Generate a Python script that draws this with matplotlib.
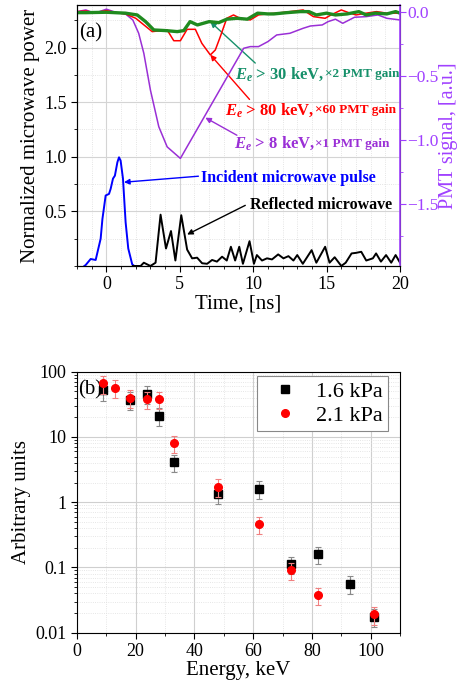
import numpy as np
import matplotlib
matplotlib.use("Agg")
import matplotlib.pyplot as plt
from matplotlib.ticker import MultipleLocator, FuncFormatter, LogLocator, NullFormatter

plt.rcParams["font.family"] = ["Liberation Serif", "DejaVu Serif"]
plt.rcParams["mathtext.fontset"] = "custom"
plt.rcParams["mathtext.rm"] = "Liberation Serif:bold"
plt.rcParams["mathtext.it"] = "Liberation Serif:italic:bold"

# ---- panel (a): time traces ----
blue_t = [-1.5, -1.41, -1.07, -0.73, -0.39, -0.27, -0.05, 0.18, 0.29, 0.45, 0.58, 0.75, 0.86, 0.97, 1.13, 1.31, 1.49, 1.76, 1.9]
blue_v = [0.0, 0.009, 0.064, 0.055, 0.25, 0.43, 0.645, 0.66, 0.706, 0.80, 0.827, 0.95, 0.995, 0.964, 0.80, 0.40, 0.16, 0.015, 0.0]

refl_t = [1.8, 2.33, 2.55, 3.0, 3.35, 3.69, 4.06, 4.4, 4.7, 5.1, 5.5, 5.84, 6.18, 6.52, 6.86, 7.2, 7.53, 7.88,
          8.2, 8.48, 8.77, 9.05, 9.3, 9.75, 10.05, 10.25, 10.6, 10.94, 11.28, 11.7, 12.06, 12.4, 12.74, 13.0,
          13.38, 13.98, 14.3, 14.9, 15.2, 15.55, 16.0, 16.3, 16.7, 17.0, 17.36, 17.7, 18.15, 18.37, 18.7,
          19.05, 19.4, 19.7, 20.0]
refl_v = [0.0, 0.0, 0.03, 0.0, 0.03, 0.47, 0.16, 0.32, 0.05, 0.465, 0.15, 0.07, 0.076, 0.025, 0.02, 0.055, 0.04, 0.085,
          0.05, 0.176, 0.05, 0.176, 0.02, 0.227, 0.02, 0.1, 0.05, 0.07, 0.06, 0.106, 0.07, 0.09, 0.05, 0.1,
          0.02, 0.145, 0.03, 0.176, 0.03, 0.08, 0.0, 0.03, 0.115, 0.12, 0.13, 0.05, 0.07, 0.115, 0.04,
          0.1, 0.03, 0.1, 0.03]

green_t = [-2, -1.4, 0, 1.3, 2.1, 2.67, 3.23, 4.04, 4.83, 5.27, 5.7, 6.2, 7.0, 7.65, 8.2, 8.9, 9.6, 10.3, 11.0,
           11.4, 12.3, 13.2, 13.8, 14.3, 15.0, 15.6, 16.4, 17.2, 17.7, 18.3, 19.1, 19.7, 20]
green_p = [-0.008, -0.008, -0.005, -0.012, -0.026, -0.078, -0.143, -0.148, -0.156, -0.148, -0.078, -0.104, -0.078,
           -0.086, -0.059, -0.052, -0.059, -0.012, -0.018, -0.018, -0.008, 0.0, 0.0, -0.026, -0.012, -0.026,
           -0.018, 0.0, -0.026, -0.012, -0.018, 0.0, -0.012]

red_t = [-2, -1.4, -0.8, 0, 0.7, 1.3, 2.0, 2.7, 3.12, 4.14, 4.59, 5.04, 5.5, 6.06, 6.5, 7.08, 7.42, 7.76, 8.2,
         8.66, 9.1, 9.8, 10.36, 10.93, 11.6, 12.5, 13.4, 14.1, 14.9, 15.3, 16.0, 16.6, 17.0, 17.7, 18.4, 19.1, 20]
red_p = [0.0, 0.005, -0.008, 0.008, -0.008, -0.018, -0.052, -0.117, -0.156, -0.143, -0.227, -0.227, -0.138, -0.138,
         -0.247, -0.338, -0.299, -0.195, -0.052, -0.026, -0.052, -0.065, -0.026, -0.018, -0.012, 0.0, 0.013,
         -0.039, -0.052, -0.026, 0.013, -0.012, -0.026, -0.012, 0.0, -0.012, -0.012]

purple_t = [-2, -1.4, -0.8, 0, 0.7, 1.3, 1.8, 2.2, 2.55, 3.0, 3.57, 4.14, 5.04, 9.35, 9.8, 10.36, 11.0, 11.6,
            12.5, 13.4, 13.9, 14.7, 15.1, 15.6, 16.1, 16.9, 17.7, 18.5, 19.1, 20]
purple_p = [0.0, 0.013, -0.013, 0.019, -0.008, -0.018, -0.065, -0.169, -0.325, -0.612, -0.898, -1.055, -1.145,
            -0.286, -0.273, -0.273, -0.234, -0.182, -0.169, -0.13, -0.112, -0.104, -0.078, -0.059, -0.091,
            -0.044, -0.039, -0.026, -0.052, -0.065]

# ---- panel (b): spectra ----
energy_16 = [9, 18, 24, 28, 33, 48, 62, 73, 82, 93, 101]
val_16 = [52, 37, 45.5, 21, 4.1, 1.34, 1.6, 0.112, 0.16, 0.056, 0.0176]
err_16 = [16, 11, 14, 6.5, 1.2, 0.4, 0.48, 0.034, 0.048, 0.017, 0.0053]
energy_21 = [9, 13, 18, 24, 28, 33, 48, 62, 73, 82, 101]
val_21 = [66, 57, 40, 38, 38, 8.0, 1.73, 0.46, 0.091, 0.038, 0.019]
err_21 = [20, 17, 12, 11, 11, 2.4, 0.52, 0.14, 0.027, 0.011, 0.0057]

PURPLE_AX = "#a040ff"
PURPLE = "#9a2fd6"
GREEN = "#1f8a1f"
TEAL = "#16906a"

fig = plt.figure(figsize=(4.59, 6.88), dpi=100)
fig.patch.set_facecolor("white")

ax1 = fig.add_axes([0.1678, 0.6134, 0.7037, 0.3794])
ax2 = ax1.twinx()

ax1.plot(blue_t, blue_v, color="#0000ff", lw=1.4)
ax1.plot(refl_t, refl_v, color="black", lw=1.4)
ax2.plot(purple_t, purple_p, color=PURPLE, lw=1.1)
ax2.plot(red_t, red_p, color="#ff0000", lw=1.1)
ax2.plot(green_t, green_p, color=GREEN, lw=2.4)

ax1.set_xlim(-2, 20)
ax1.set_ylim(0, 2.39)
ax2.set_ylim(-1.984, 0.052)

ax1.xaxis.set_major_locator(MultipleLocator(5))
ax1.xaxis.set_minor_locator(MultipleLocator(1))
ax1.set_yticks([0.5, 1.0, 1.5, 2.0])
ax1.yaxis.set_minor_locator(MultipleLocator(0.25))
ax2.set_yticks([0.0, -0.5, -1.0, -1.5])
ax2.yaxis.set_minor_locator(MultipleLocator(0.25))

ax1.grid(True, which="major", color="#d4d4d4", lw=0.8)
ax1.grid(True, which="minor", color="#dcdcdc", lw=0.6, linestyle=":")
ax1.set_axisbelow(True)

ax1.tick_params(which="both", direction="out", labelsize=13)
ax1.tick_params(which="major", length=4)
ax1.tick_params(which="minor", length=2.5)
ax2.tick_params(which="both", direction="out", colors=PURPLE_AX, labelsize=12.5, pad=1)
ax2.tick_params(which="major", length=4)
ax2.tick_params(which="minor", length=2.5)
ax2.spines["right"].set_color(PURPLE_AX)
ax2.spines["right"].set_linewidth(1.2)

ax1.set_xlabel("Time, [ns]", fontsize=15, labelpad=1)
ax1.set_ylabel("Normalized microwave power", fontsize=15, labelpad=3)
ax2.text(1.15, 0.5, "PMT signal, [a.u.]", transform=ax2.transAxes, rotation=90,
         fontsize=14.5, color=PURPLE_AX, ha="center", va="center")

ax1.text(-1.85, 2.13, "(a)", fontsize=15, va="center", ha="left")


def arrow(ax, head, tail, color):
    ax.annotate("", xy=head, xytext=tail,
                arrowprops=dict(arrowstyle="-|>", color=color, lw=1.0,
                                mutation_scale=8, shrinkA=0, shrinkB=0))


def pmt_label(ax, x, y, main, small, color):
    t1 = ax.text(x, y, main, fontsize=12, fontweight="bold", color=color,
                 va="baseline", ha="left")
    ax.annotate(small, xy=(1, 0), xycoords=t1, xytext=(0, 2),
                textcoords="offset points", fontsize=9.5, fontweight="bold",
                color=color, va="bottom", ha="left")


arrow(ax1, (7.08, 2.236), (10.14, 1.858), TEAL)
pmt_label(ax1, 8.78, 1.72, r"$E_e$ > 30 keV, ", "×2 PMT gain", TEAL)

arrow(ax1, (7.08, 1.934), (9.75, 1.525), "#ff0000")
pmt_label(ax1, 8.1, 1.385, r"$E_e$ > 80 keV, ", "×60 PMT gain", "#ff0000")

arrow(ax1, (6.74, 1.358), (8.89, 1.197), PURPLE)
pmt_label(ax1, 8.66, 1.08, r"$E_e$ > 8 keV, ", "×1 PMT gain", PURPLE)

arrow(ax1, (1.2, 0.767), (6.27, 0.822), "#0000ff")
ax1.text(6.45, 0.81, "Incident microwave pulse", fontsize=11.5, fontweight="bold",
         color="#0000ff", va="center", ha="left")

arrow(ax1, (5.5, 0.288), (9.46, 0.555), "black")
ax1.text(9.8, 0.555, "Reflected microwave", fontsize=11.5, fontweight="bold",
         color="black", va="center", ha="left")

# ---- panel (b) ----
bx = fig.add_axes([0.1671, 0.0804, 0.705, 0.3794])

bx.errorbar(energy_16, val_16, yerr=err_16, fmt="s", color="black", ms=5.5,
            ecolor="#8a8a8a", elinewidth=0.8, capsize=2.5, capthick=0.8, zorder=3)
bx.errorbar(energy_21, val_21, yerr=err_21, fmt="o", color="#ff0000", ms=5.5,
            ecolor="#f08080", elinewidth=0.8, capsize=2.5, capthick=0.8, zorder=4)

bx.set_yscale("log")
bx.set_xlim(0, 110)
bx.set_ylim(0.01, 100)
bx.xaxis.set_major_locator(MultipleLocator(20))
bx.xaxis.set_minor_locator(MultipleLocator(10))
bx.yaxis.set_major_locator(LogLocator(base=10))
bx.yaxis.set_minor_locator(LogLocator(base=10, subs=np.arange(2, 10)))
bx.yaxis.set_minor_formatter(NullFormatter())
bx.yaxis.set_major_formatter(FuncFormatter(lambda v, p: "%g" % v))

bx.grid(True, which="major", color="#cfcfcf", lw=0.8)
bx.grid(True, which="minor", color="#dedede", lw=0.6, linestyle=":")
bx.set_axisbelow(True)
bx.tick_params(which="both", direction="out", labelsize=13)
bx.tick_params(which="major", length=4)
bx.tick_params(which="minor", length=2.5)

bx.set_xlabel("Energy, keV", fontsize=15, labelpad=1)
bx.set_ylabel("Arbitrary units", fontsize=15, labelpad=3)
bx.text(0.005, 0.93, "(b)", transform=bx.transAxes, fontsize=15, va="center", ha="left")

h1, = bx.plot([], [], "s", color="black", ms=5.5)
h2, = bx.plot([], [], "o", color="#ff0000", ms=5.5)
leg = bx.legend([h1, h2], ["1.6 kPa", "2.1 kPa"], loc="upper right",
                bbox_to_anchor=(0.962, 0.985), borderaxespad=0, fontsize=16,
                fancybox=False, edgecolor="#888888", framealpha=1,
                handletextpad=0.4, borderpad=0.25, labelspacing=0.15,
                handlelength=2.0)
leg.get_frame().set_linewidth(0.8)

fig.savefig("out.png", dpi=100, facecolor=fig.get_facecolor())
